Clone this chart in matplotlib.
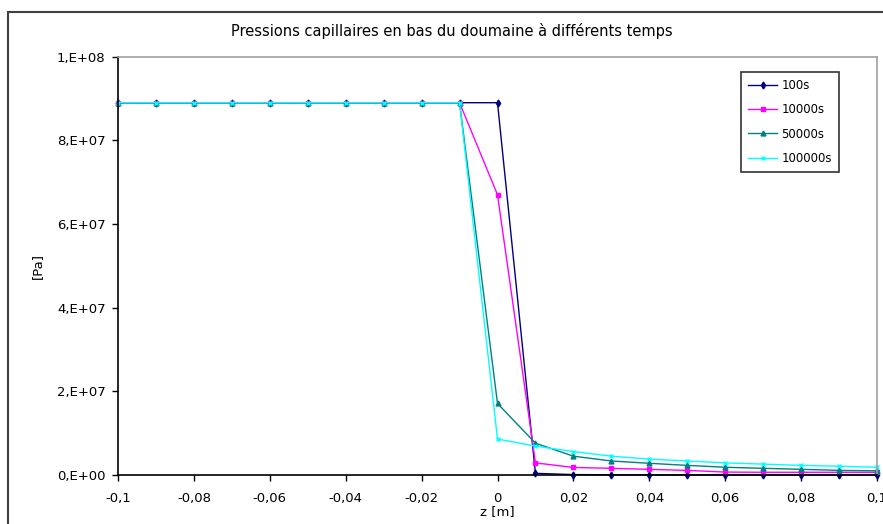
import matplotlib
matplotlib.use('Agg')
import matplotlib.pyplot as plt
from matplotlib.patches import Rectangle
from matplotlib.ticker import FixedLocator
import numpy as np

# profondeur z [m] et pressions capillaires [Pa]
z = [-0.1, -0.09, -0.08, -0.07, -0.06, -0.05, -0.04, -0.03, -0.02, -0.01,
     0.0, 0.01, 0.02, 0.03, 0.04, 0.05, 0.06, 0.07, 0.08, 0.09, 0.1]

p_100 = [8.9e7] * 11 + [4e5, 1e5, 5e4, 3e4, 2e4, 1e4, 1e4, 1e4, 1e4, 1e4]
p_10000 = [8.9e7] * 10 + [6.7e7, 2.9e6, 1.8e6, 1.6e6, 1.35e6, 1.1e6,
                          7e5, 6.5e5, 6.5e5, 6.5e5, 6.5e5]
p_50000 = [8.9e7] * 10 + [1.71e7, 7.6e6, 4.5e6, 3.35e6, 2.8e6, 2.3e6,
                          1.85e6, 1.6e6, 1.36e6, 1.1e6, 1.0e6]
p_100000 = [8.9e7] * 10 + [8.6e6, 6.9e6, 5.6e6, 4.5e6, 3.8e6, 3.35e6,
                           2.9e6, 2.6e6, 2.3e6, 2.1e6, 1.85e6]

labels = ["100s", "10000s", "50000s", "100000s"]
colors = ["#000080", "#ff00ff", "#008080", "#00ffff"]
markers = ["d", "s", "^", "x"]

xticks = [-0.1, -0.08, -0.06, -0.04, -0.02, 0.0, 0.02, 0.04, 0.06, 0.08, 0.1]
xticklabels = ["-0,1", "-0,08", "-0,06", "-0,04", "-0,02", "0",
               "0,02", "0,04", "0,06", "0,08", "0,1"]
yticks = [0, 2e7, 4e7, 6e7, 8e7, 1e8]
yticklabels = ["0,E+00", "2,E+07", "4,E+07", "6,E+07", "8,E+07", "1,E+08"]

plt.rcParams['font.family'] = ['DejaVu Sans']

fig = plt.figure(figsize=(8.83, 5.24), dpi=100)
ax = fig.add_axes([118 / 883, 1 - 475 / 524, (877 - 118) / 883, (475 - 56.7) / 524])

# cadre exterieur du graphique
fig.patches.append(Rectangle((8 / 883, -0.1), 1.1, 1.1 - 13 / 524 + 0.001,
                             transform=fig.transFigure, fill=False,
                             edgecolor="#404040", linewidth=1.5))

series = [p_100, p_10000, p_50000, p_100000]
for vals, lab, c, m in zip(series, labels, colors, markers):
    ax.plot(z, vals, color=c, marker=m, markersize=3.5, linewidth=1.0,
            label=lab, clip_on=False)

ax.set_xlim(-0.1, 0.1)
ax.set_ylim(0, 1e8)
ax.xaxis.set_major_locator(FixedLocator(xticks))
ax.set_xticklabels(xticklabels)
ax.yaxis.set_major_locator(FixedLocator(yticks))
ax.set_yticklabels(yticklabels)
ax.tick_params(axis='both', labelsize=9.5, length=4, width=1, color='black')
ax.tick_params(axis='x', pad=8)
ax.tick_params(axis='y', pad=5)

for s in ['top', 'right']:
    ax.spines[s].set_color('#a0a0a0')
    ax.spines[s].set_linewidth(1.2)
for s in ['left', 'bottom']:
    ax.spines[s].set_color('black')
    ax.spines[s].set_linewidth(1.2)

ax.set_xlabel("z [m]", fontsize=9.5, labelpad=0)
ax.set_ylabel("[Pa]", fontsize=9.5, labelpad=9)
fig.text(452 / 883, 1 - 31 / 524,
         "Pressions capillaires en bas du doumaine à différents temps",
         ha='center', va='center', fontsize=10.5)

leg = ax.legend(loc='upper right', bbox_to_anchor=(839 / 883, 1 - 72 / 524),
                bbox_transform=fig.transFigure, fontsize=8.5, frameon=True,
                fancybox=False, edgecolor='black', handlelength=2.4,
                borderpad=0.6, labelspacing=0.95, handletextpad=0.4,
                borderaxespad=0)
leg.get_frame().set_linewidth(1.2)

fig.savefig("out.png", dpi=100)
